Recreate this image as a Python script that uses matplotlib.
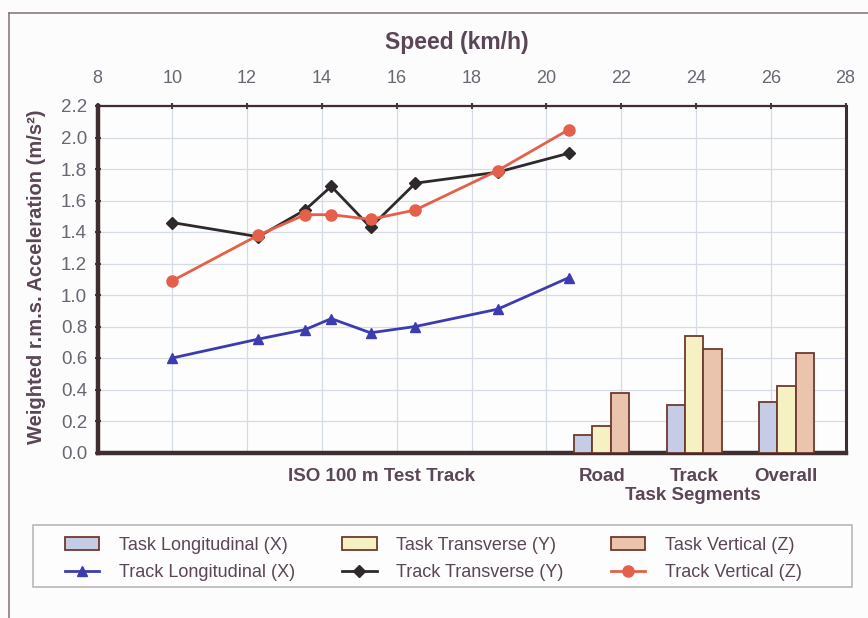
import numpy as np
import matplotlib
matplotlib.use("Agg")
import matplotlib.pyplot as plt
from matplotlib.lines import Line2D
from matplotlib.patches import Rectangle

plt.rcParams['font.family'] = ['Liberation Sans', 'DejaVu Sans']

# ---- data ----
speed = [10.0, 12.3, 13.55, 14.25, 15.3, 16.5, 18.7, 20.6]
track_long = [0.60, 0.72, 0.78, 0.85, 0.76, 0.80, 0.91, 1.11]
track_trans = [1.46, 1.37, 1.54, 1.69, 1.43, 1.71, 1.78, 1.90]
track_vert = [1.09, 1.38, 1.51, 1.51, 1.48, 1.54, 1.79, 2.05]

segments = ["Road", "Track", "Overall"]
task_long = [0.11, 0.30, 0.32]
task_trans = [0.17, 0.74, 0.42]
task_vert = [0.38, 0.66, 0.63]

speed_ticks = [8, 10, 12, 14, 16, 18, 20, 22, 24, 26, 28]
y_ticks = [0.0, 0.2, 0.4, 0.6, 0.8, 1.0, 1.2, 1.4, 1.6, 1.8, 2.0, 2.2]

# ---- styles ----
txt = '#5a4656'
tick_c = '#6a6672'
edge_c = '#6e3a30'
c_bx, c_by, c_bz = '#c6cbe6', '#f6f1c3', '#ebc4ae'
c_lx, c_ly, c_lz = '#3c3cb0', '#2e2a2c', '#e4604a'

W, H = 868, 618
fig = plt.figure(figsize=(W / 100, H / 100), dpi=100, facecolor='#fcfcfc')
ax = fig.add_axes([97.5 / W, 1 - 452.5 / H, 748 / W, 346.5 / H])
ax.set_facecolor('#fdfdfd')

ax.set_xlim(8, 28)
ax.set_ylim(0, 2.2)
ax.set_xticks(speed_ticks)
ax.set_yticks(y_ticks)
ax.set_yticklabels([f"{v:.1f}" for v in y_ticks])
ax.xaxis.tick_top()
ax.tick_params(axis='x', direction='inout', length=5, width=1.5, color='#4a3a3a',
               labelsize=13, labelcolor=tick_c, pad=11)
ax.tick_params(axis='y', direction='inout', length=5, width=1.5, color='#4a3a3a',
               labelsize=13.5, labelcolor=tick_c, pad=5)
ax.grid(True, color='#d6dce4', linewidth=0.9, zorder=0)
ax.set_axisbelow(True)

for side, lw in [('left', 3.2), ('bottom', 3.2), ('top', 1.6), ('right', 2.2)]:
    ax.spines[side].set_linewidth(lw)
    ax.spines[side].set_color('#3e2e30')

# bars on speed coordinates
group_start, group_step, bw = 21.48, 2.47, 0.49
centers = group_start + group_step * np.arange(len(segments))
bx = ax.bar(centers - bw, task_long, bw, color=c_bx, edgecolor=edge_c, linewidth=1.3, zorder=3,
            label='Task Longitudinal (X)')
by = ax.bar(centers, task_trans, bw, color=c_by, edgecolor=edge_c, linewidth=1.3, zorder=3,
            label='Task Transverse (Y)')
bz = ax.bar(centers + bw, task_vert, bw, color=c_bz, edgecolor=edge_c, linewidth=1.3, zorder=3,
            label='Task Vertical (Z)')

lx, = ax.plot(speed, track_long, color=c_lx, lw=2, marker='^', ms=7, zorder=4,
              label='Track Longitudinal (X)')
ly, = ax.plot(speed, track_trans, color=c_ly, lw=2, marker='D', ms=6, zorder=4,
              label='Track Transverse (Y)')
lz, = ax.plot(speed, track_vert, color=c_lz, lw=2, marker='o', ms=8, zorder=5,
              label='Track Vertical (Z)')

# bottom categorical labels
iso_pos = (speed[0] + speed[-1]) / 2 + 0.3
sec = ax.secondary_xaxis('bottom')
sec.set_xticks([iso_pos] + list(centers), ["ISO 100 m Test Track"] + segments)
sec.tick_params(length=0, labelsize=13.5, labelcolor=txt, pad=11)
for lab in sec.get_xticklabels():
    lab.set_fontweight('bold')
sec.spines['bottom'].set_visible(False)

fig.text(693 / W, 1 - 496 / H, "Task Segments", ha='center', va='center',
         fontsize=13.5, fontweight='bold', color=txt)
fig.text(457 / W, 1 - 42 / H, "Speed (km/h)", ha='center', va='center',
         fontsize=16.5, fontweight='bold', color=txt)
fig.text(37 / W, 1 - 277 / H, "Weighted r.m.s. Acceleration (m/s²)", rotation=90,
         ha='center', va='center', fontsize=14.5, fontweight='bold', color=txt)

# legend box
fig.add_artist(Rectangle((33 / W, 1 - 587 / H), 819 / W, 62 / H, transform=fig.transFigure,
                         facecolor='#fdfdfd', edgecolor='#b8b8b8', lw=1.2, zorder=1))
handles = [bx, lx, by, ly, bz, lz]
labels = [h.get_label() for h in handles]
leg = fig.legend(handles, labels, ncol=3, loc='upper left',
                 bbox_to_anchor=(65 / W, 1 - 537 / H),
                 frameon=False, fontsize=13, labelcolor=txt,
                 handlelength=1.9, handletextpad=1.1, columnspacing=2.6,
                 borderpad=0, labelspacing=0.55, borderaxespad=0)
leg.set_zorder(2)

# outer frame lines
fig.add_artist(Line2D([9 / W, 9 / W], [0, 1 - 13 / H], transform=fig.transFigure,
                      color='#8a7a7e', lw=1.2))
fig.add_artist(Line2D([9 / W, 1], [1 - 13 / H, 1 - 13 / H], transform=fig.transFigure,
                      color='#8a7a7e', lw=1.2))

fig.savefig('out.png', dpi=100, facecolor=fig.get_facecolor())
